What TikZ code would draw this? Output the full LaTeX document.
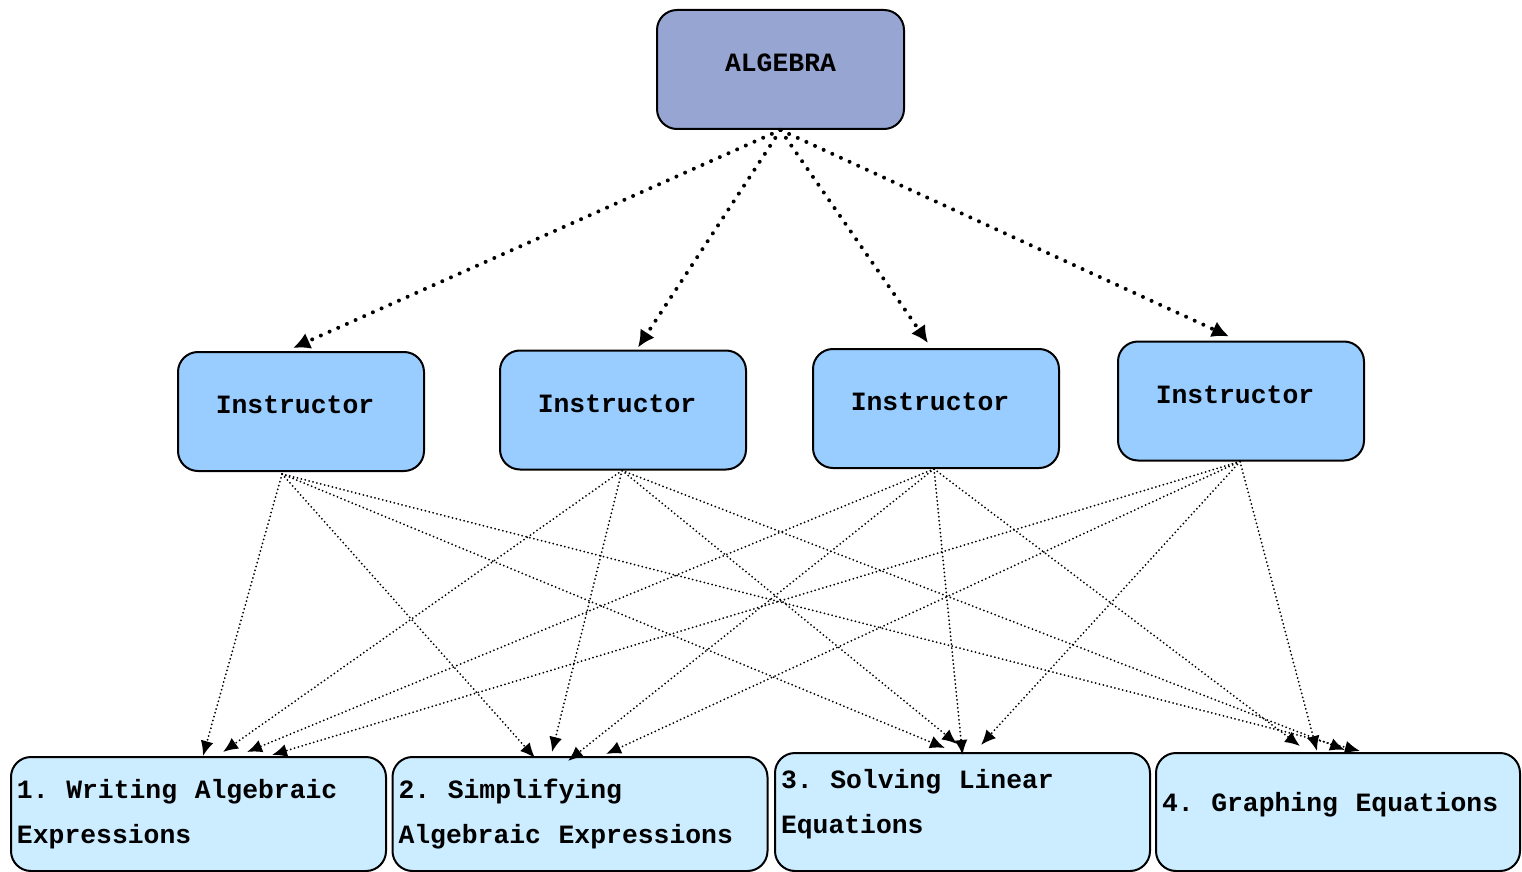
\documentclass[tikz,border=0pt]{standalone}
\usepackage{fontspec}
\setmonofont{Liberation Mono}
\usetikzlibrary{arrows.meta}

\definecolor{algfill}{RGB}{150,165,210}
\definecolor{instfill}{RGB}{153,204,255}
\definecolor{unitfill}{RGB}{204,236,255}

\tikzset{
    boxtext/.style={font=\ttfamily\bfseries\fontsize{13.2}{22.5}\selectfont},
    topbox/.style={boxtext, draw=black, line width=1pt, rounded corners=10pt,
        fill=algfill, minimum width=123.5pt, minimum height=59.5pt,
        text height=8pt, text depth=6pt},
    instbox/.style={topbox, fill=instfill, minimum width=123pt,
        execute at end node={\hspace{6pt}}},
    unitbox/.style={boxtext, draw=black, line width=1pt, rounded corners=10pt,
        fill=unitfill, align=left, inner xsep=3pt, text width=181.5pt,
        minimum height=57pt,
        execute at begin node={\frenchspacing\spaceskip=8.8pt\relax\xspaceskip=8.8pt\relax}},
    toparrow/.style={line width=2pt, line cap=round, dash pattern=on 0pt off 4.75pt,
        -{Latex[length=8.5pt,width=8.5pt]}},
    subarrow/.style={line width=1pt, line cap=round, dash pattern=on 0pt off 2pt,
        -{Latex[length=7.5pt,width=6.5pt]}}
}

\begin{document}
\begin{tikzpicture}[x=0.5pt,y=-0.5pt]
    \useasboundingbox (0,0) rectangle (1522,872);
    %%
    % Node: top
    \node[topbox] (alg) at (780.5,69.5) {ALGEBRA};
    % Nodes: instructors
    \node[instbox] (i1) at (301,411.5) {Instructor};
    \node[instbox] (i2) at (623,410) {Instructor};
    \node[instbox] (i3) at (936,408.5) {Instructor};
    \node[instbox] (i4) at (1241,401) {Instructor};
    % Nodes: units
    \node[unitbox, minimum height=57pt] (w1) at (198.5,814) {1. Writing Algebraic\\Expressions};
    \node[unitbox, minimum height=57pt] (w2) at (580,814) {2. Simplifying\\Algebraic Expressions};
    \node[unitbox, minimum height=59pt, text depth=33.5pt] (w3) at (962.5,812) {3. Solving Linear\\Equations};
    \node[unitbox, minimum height=59pt, text width=176pt, text height=9pt, text depth=10pt] (w4) at (1338,812) {4. Graphing Equations};
    %
    % Edges: alg -> instructors
    \draw[toparrow] (alg.south) -- ([xshift=-4pt,yshift=1.5pt]i1.north);
    \draw[toparrow] (alg.south) -- ([xshift=7.5pt,yshift=1pt]i2.north);
    \draw[toparrow] (alg.south) -- ([xshift=-4pt,yshift=2.5pt]i3.north);
    \draw[toparrow] (alg.south) -- ([xshift=-6pt,yshift=2pt]i4.north);
    %
    \coordinate (i1out) at ([xshift=-9.5pt,yshift=-1pt]i1.south);
    \coordinate (i2out) at ([xshift=-0.5pt]i2.south);
    \coordinate (i3out) at ([xshift=-1pt]i3.south);
    \coordinate (i4out) at ([xshift=-0.5pt]i4.south);
    % Edges: i1 -> units
    \draw[subarrow] (i1out) -- ([xshift=2.25pt]w1.north);
    \draw[subarrow] (i1out) -- ([xshift=-22.5pt,yshift=-1pt]w2.north);
    \draw[subarrow] (i1out) -- ([xshift=-8.75pt,yshift=2pt]w3.north);
    \draw[subarrow] (i1out) -- ([xshift=11pt,yshift=0.5pt]w4.north);
    % Edges: i2 -> units
    \draw[subarrow] (i2out) -- ([xshift=12.25pt,yshift=2pt]w1.north);
    \draw[subarrow] (i2out) -- ([xshift=-14pt,yshift=2pt]w2.north);
    \draw[subarrow] (i2out) -- ([xshift=-2.75pt,yshift=4pt]w3.north);
    \draw[subarrow] (i2out) -- ([xshift=3.5pt,yshift=1pt]w4.north);
    % Edges: i3 -> units
    \draw[subarrow] (i3out) -- ([xshift=24.25pt,yshift=2pt]w1.north);
    \draw[subarrow] (i3out) -- ([xshift=-6pt,yshift=-2.5pt]w2.north);
    \draw[subarrow] (i3out) -- ([yshift=-1.5pt]w3.north);
    \draw[subarrow] (i3out) -- ([xshift=-19pt,yshift=3pt]w4.north);
    % Edges: i4 -> units
    \draw[subarrow] (i4out) -- ([xshift=36.75pt,yshift=0.5pt]w1.north);
    \draw[subarrow] (i4out) -- ([xshift=13pt,yshift=1pt]w2.north);
    \draw[subarrow] (i4out) -- ([xshift=9.25pt,yshift=3.5pt]w3.north);
    \draw[subarrow] (i4out) -- ([xshift=-10.5pt,yshift=0.5pt]w4.north);
    %
\end{tikzpicture}
\end{document}
